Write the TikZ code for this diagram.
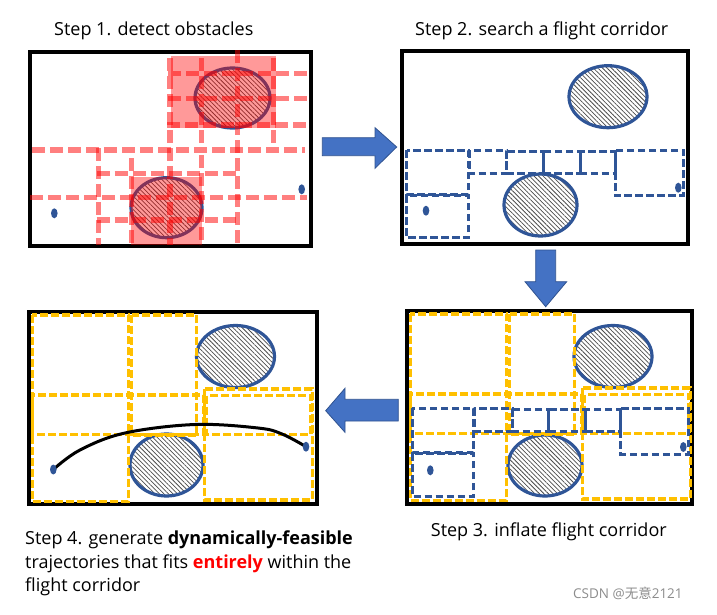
\documentclass[tikz,border=0pt]{standalone}
\usepackage{fontspec}
\setmainfont{Open Sans}
\newfontfamily\cjk{Noto Sans CJK SC}
\usetikzlibrary{patterns.meta}
\definecolor{obsblue}{HTML}{2F5597}
\definecolor{arrfill}{HTML}{4472C4}
\definecolor{arrline}{HTML}{2F528F}
\definecolor{gold}{HTML}{FFC000}
\tikzset{
  panel/.style={draw=black, line width=3.3pt},
  obstacle/.style={draw=obsblue, line width=3.2pt,
    pattern={Lines[angle=-45, distance=3.2pt, line width=0.75pt]}, pattern color=black!70},
  waypt/.style={fill=obsblue, draw=none},
  bluebox/.style={draw=obsblue, line width=3pt, dash pattern=on 7.5pt off 3.5pt},
  goldbox/.style={draw=gold, line width=3.5pt, dash pattern=on 8pt off 3pt},
  redline/.style={draw=red, draw opacity=0.5, line width=5.5pt, dash pattern=on 13pt off 5pt},
  redzone/.style={fill=red, fill opacity=0.4, draw=none},
  blockarrow/.style={fill=arrfill, draw=arrline, line width=0.8pt},
  steplabel/.style={anchor=base west, inner sep=0pt, font=\fontsize{18}{22}\selectfont},
  traj/.style={draw=black, line width=3pt, line cap=round},
}
\begin{document}
\begin{tikzpicture}[x=1pt, y=-1pt]
\useasboundingbox (0,0) rectangle (717,615);

% ---------- Panel 1 ----------
\draw[panel] (30,52) rectangle (311,246);
\draw[obstacle] (232.5,98) ellipse [x radius=37.5pt, y radius=30pt];
\draw[obstacle] (166.5,207.7) ellipse [x radius=35.5pt, y radius=30pt];
\fill[waypt] (54.3,213.3) ellipse [x radius=3.3pt, y radius=5pt];
\fill[waypt] (301.7,189.3) ellipse [x radius=3.3pt, y radius=5pt];
\fill[redzone] (170.7,55.7) rectangle (275.7,128.3);
\fill[redzone] (131,176.7) rectangle (201.7,245);
\draw[redline] (168,73.3) -- (307,73.3);
\draw[redline] (168,98.3) -- (307,98.3);
\draw[redline] (167,125) -- (307,125);
\draw[redline] (32,150) -- (305,150);
\draw[redline] (96.7,173.3) -- (238,173.3);
\draw[redline] (30,197.7) -- (307,197.7);
\draw[redline] (96.7,220) -- (238,220);
\draw[redline] (170,58) -- (170,245);
\draw[redline] (201.7,58) -- (201.7,145);
\draw[redline] (201.7,155) -- (201.7,245);
\draw[redline] (237.3,50) -- (237.3,245);
\draw[redline] (273.3,58) -- (273.3,145);
\draw[redline] (98.3,148) -- (98.3,245);
\draw[redline] (131.7,158) -- (131.7,245);

% ---------- Panel 2 ----------
\draw[panel] (402,51) rectangle (688,244);
\draw[obstacle] (608,96.7) ellipse [x radius=39pt, y radius=31pt];
\draw[obstacle] (540.5,205) ellipse [x radius=36.5pt, y radius=31pt];
\begin{scope}[bluebox]
  \draw (406.7,150) rectangle (468.3,194.3);
  \draw (406.7,195) rectangle (468.3,237.7);
  \draw (469,150) rectangle (506.7,173.3);
  \draw (506.7,151) rectangle (543.3,173.3);
  \draw (543.3,151) rectangle (580,173.3);
  \draw (580,151) rectangle (615,173.3);
  \draw (615,150) rectangle (683.3,195.7);
\end{scope}
\fill[waypt] (426,210.7) ellipse [x radius=3.3pt, y radius=5pt];
\fill[waypt] (678.3,187.7) ellipse [x radius=3.3pt, y radius=5pt];

% ---------- Panel 3 ----------
\draw[panel] (407,311) rectangle (692,504);
\draw[obstacle] (613,356.5) ellipse [x radius=39pt, y radius=31pt];
\draw[obstacle] (545,465.5) ellipse [x radius=37pt, y radius=30.5pt];
\begin{scope}[goldbox, shift={(378,-1)}]
  \draw (32.3,315) rectangle (128.3,501.7);
  \draw (131.7,315) rectangle (196.7,435);
  \draw (32.3,395) rectangle (203.3,434.3);
  \draw (204.3,389) rectangle (312.3,500);
  \draw (206.7,395.7) rectangle (311,434.3);
\end{scope}
\begin{scope}[bluebox, shift={(5.5,258.3)}]
  \draw (406.7,150) rectangle (468.3,194.3);
  \draw (406.7,195) rectangle (468.3,237.7);
  \draw (469,150) rectangle (506.7,173.3);
  \draw (506.7,151) rectangle (543.3,173.3);
  \draw (543.3,151) rectangle (580,173.3);
  \draw (580,151) rectangle (615,173.3);
  \draw (615,150) rectangle (683.3,195.7);
\end{scope}
\fill[waypt] (430.3,470.3) ellipse [x radius=3.3pt, y radius=5pt];
\fill[waypt] (683.3,447) ellipse [x radius=3.3pt, y radius=5pt];

% ---------- Panel 4 ----------
\draw[panel] (29,312) rectangle (317,504);
\draw[obstacle] (235.5,356.5) ellipse [x radius=39pt, y radius=31pt];
\draw[obstacle] (166.5,465) ellipse [x radius=36.5pt, y radius=31pt];
\begin{scope}[goldbox]
  \draw (32.3,315) rectangle (128.3,501.7);
  \draw (131.7,315) rectangle (196.7,435);
  \draw (32.3,395) rectangle (203.3,434.3);
  \draw (204.3,389) rectangle (312.3,500);
  \draw (206.7,395.7) rectangle (311,434.3);
\end{scope}
\coordinate (start) at (53.3,469.5);
\coordinate (goal) at (306,446.7);
\draw[traj] plot[smooth, tension=0.6] coordinates {(53.3,469.5) (80,450) (125,433) (195,424.5) (258,428) (282,434) (306,446.7)};
\fill[waypt] (start) ellipse [x radius=3.3pt, y radius=5pt];
\fill[waypt] (goal) ellipse [x radius=3.3pt, y radius=5pt];

% ---------- Block arrows ----------
\filldraw[blockarrow] (322.3,137.7) -- (375,137.7) -- (375,127.7) -- (396.7,147) -- (375,168.3) -- (375,155.7) -- (322.3,155.7) -- cycle;
\filldraw[blockarrow] (535.7,250) -- (555.7,250) -- (555.7,281.7) -- (566.7,281.7) -- (545.7,306.7) -- (525,281.7) -- (535.7,281.7) -- cycle;
\filldraw[blockarrow] (398.3,399.3) -- (345,399.3) -- (345,388.3) -- (325.7,410.7) -- (345,432.3) -- (345,421) -- (398.3,421) -- cycle;

% ---------- Labels ----------
\node[steplabel] (s1) at (54,36) {Step 1. detect obstacles};
\node[steplabel] (s2) at (415,36) {Step 2. search a flight corridor};
\node[steplabel] (s3) at (430.7,536) {Step 3. inflate flight corridor};
\node[steplabel] (s4a) at (25,544) {Step 4. generate \textbf{dynamically-feasible}};
\node[steplabel] (s4b) at (25,568.3) {trajectories that fits \textcolor{red}{\textbf{entirely}} within the};
\node[steplabel] (s4c) at (25,591.7) {flight corridor};
\node[anchor=base west, inner sep=0pt, text=black!45, font=\fontsize{13.5}{16}\selectfont] (wm) at (573,598) {CSDN @{\cjk 无意}2121};
\end{tikzpicture}
\end{document}
